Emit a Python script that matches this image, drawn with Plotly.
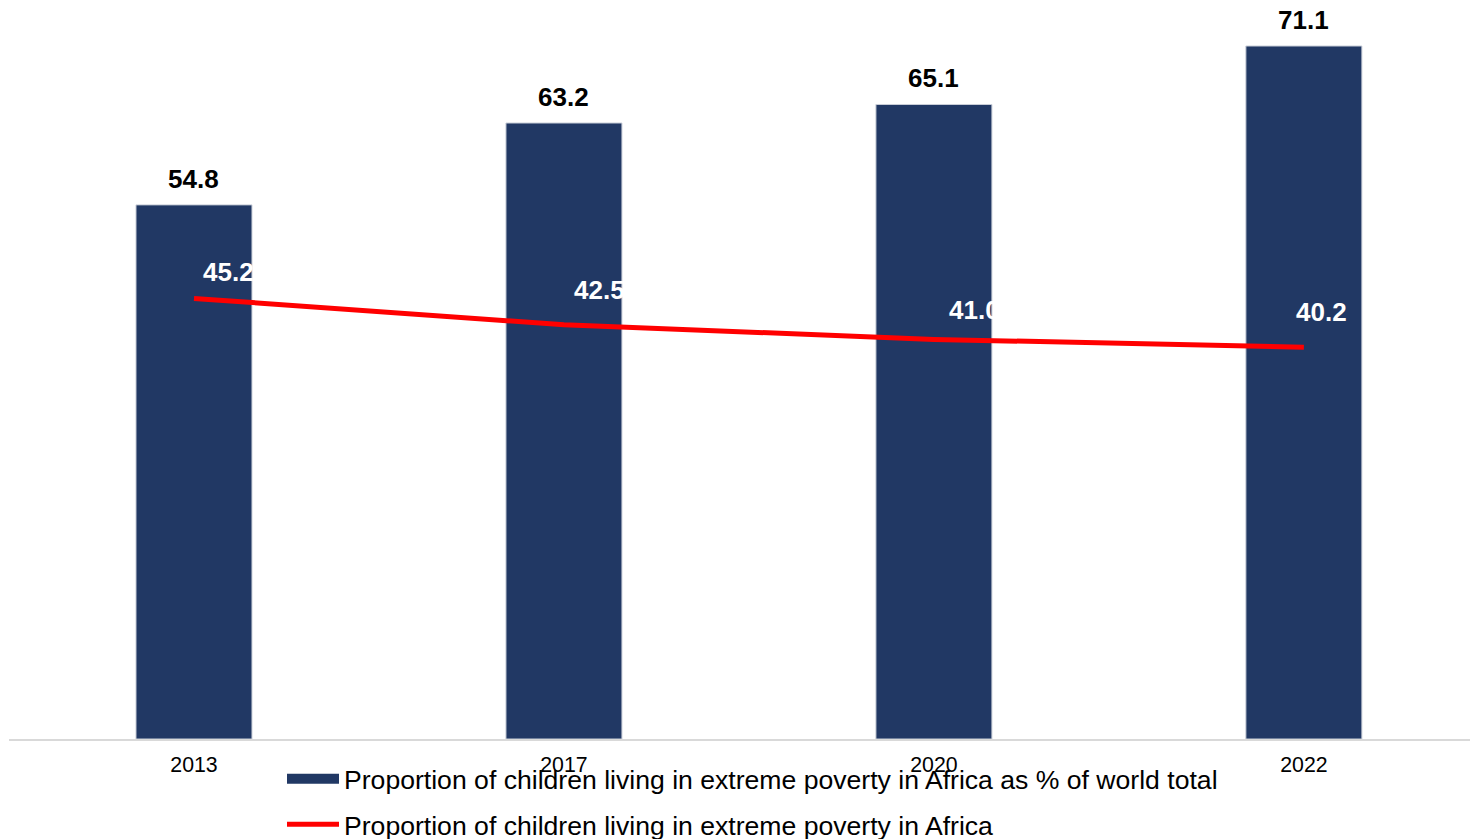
import plotly.graph_objects as go

years = ["2013", "2017", "2020", "2022"]
share_of_world = [54.8, 63.2, 65.1, 71.1]
share_in_africa = [45.2, 42.5, 41.0, 40.2]
bar_name = "Proportion of children living in extreme poverty in Africa as % of world total"
line_name = "Proportion of children living in extreme poverty in Africa"

NAVY = "#213864"
RED = "#ff0000"
FONT = "Arial, Liberation Sans, sans-serif"

fig = go.Figure()
fig.add_trace(go.Bar(
    x=years, y=share_of_world, width=0.3135,
    marker=dict(color=NAVY, line=dict(color="#c9ced8", width=1)),
    showlegend=False, name=bar_name,
))
fig.add_trace(go.Scatter(
    x=years, y=share_in_africa, mode="lines",
    line=dict(color=RED, width=5), name=line_name, showlegend=False,
))
# legend entries
fig.add_trace(go.Scatter(x=[None], y=[None], mode="lines", name=bar_name,
                         line=dict(color=NAVY, width=14), legendgroup="a"))
fig.add_trace(go.Scatter(x=[None], y=[None], mode="lines", name=line_name,
                         line=dict(color=RED, width=5), legendgroup="b"))

# bar value labels
for i, v in enumerate(share_of_world):
    fig.add_annotation(x=i, y=v, text=f"<b>{v:.1f}</b>", showarrow=False,
                       yanchor="bottom", yshift=9,
                       font=dict(family=FONT, size=26, color="#000000"))
# line value labels (white)
line_xshift = [35, 36, 41, 18]
line_yshift = [26, 35, 29, 35]
for i, (v, dx, dy) in enumerate(zip(share_in_africa, line_xshift, line_yshift)):
    fig.add_annotation(x=i, y=v, text=f"<b>{v:.1f}</b>", showarrow=False,
                       xshift=dx, yshift=dy,
                       font=dict(family=FONT, size=26, color="#ffffff"))

fig.update_layout(
    width=1470, height=839,
    margin=dict(l=9, r=0, t=0, b=100, autoexpand=False),
    paper_bgcolor="white", plot_bgcolor="white",
    font=dict(family=FONT, color="#000000"),
    bargap=0.5,
    xaxis=dict(type="category", range=[-0.5, 3.449], showline=True,
               linecolor="#d9d9d9", linewidth=1.5, showgrid=False,
               ticks="", tickfont=dict(size=21.3, color="#000000"),
               ticklabelstandoff=6),
    yaxis=dict(range=[0, 75.82], visible=False, showgrid=False),
    legend=dict(orientation="v", x=(282 - 9) / 1461, xanchor="left",
                y=-0.0215, yanchor="top", font=dict(size=26.6, color="#000000"),
                itemwidth=52, tracegroupgap=8, bgcolor="rgba(0,0,0,0)",
                traceorder="grouped"),
)

fig.write_html("out.html")
